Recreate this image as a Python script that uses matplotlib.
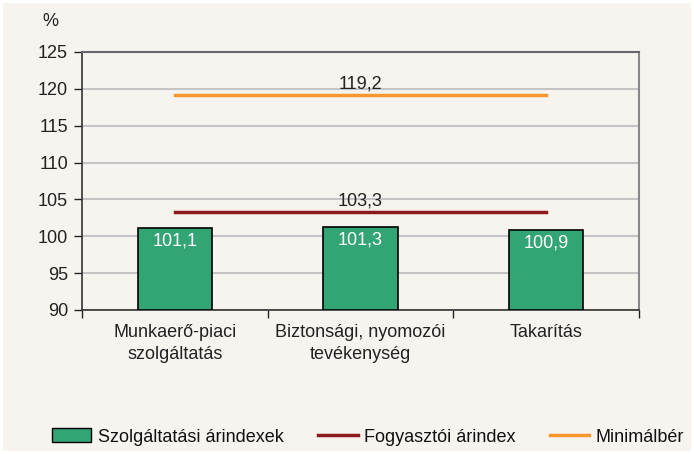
import matplotlib.pyplot as plt
from matplotlib.patches import Patch
from matplotlib.lines import Line2D

categories = ["Munkaerő-piaci\nszolgáltatás", "Biztonsági, nyomozói\ntevékenység", "Takarítás"]
arindex = [101.1, 101.3, 100.9]
fogyasztoi = 103.3
minimalber = 119.2

plt.rcParams['font.family'] = ['Liberation Sans', 'DejaVu Sans']

bg = '#F7F4F0'
green = '#33A474'
darkred = '#8B1A1A'
orange = '#F7962F'

fig = plt.figure(figsize=(6.94, 4.54), dpi=100, facecolor=bg)
fig.patch.set_edgecolor('white')
fig.patch.set_linewidth(3)
ax = fig.add_axes([82/694, 1 - 310/454, (639-82)/694, (310-52)/454])
ax.set_facecolor(bg)

x = list(range(len(categories)))
ax.bar(x, [v - 90 for v in arindex], bottom=90, width=0.40, color=green,
       edgecolor='black', linewidth=1.2, zorder=3)
for xi, v in zip(x, arindex):
    ax.text(xi, v - 0.6, f"{v:.1f}".replace('.', ','), ha='center', va='top',
            color='white', fontsize=13, zorder=4)

ax.plot([0, 2], [fogyasztoi, fogyasztoi], color=darkred, lw=2.5, zorder=3)
ax.plot([0, 2], [minimalber, minimalber], color=orange, lw=2.5, zorder=3)
ax.text(1, fogyasztoi + 0.3, f"{fogyasztoi:.1f}".replace('.', ','), ha='center', va='bottom',
        fontsize=13, color='#222222')
ax.text(1, minimalber + 0.3, f"{minimalber:.1f}".replace('.', ','), ha='center', va='bottom',
        fontsize=13, color='#222222')

ax.set_xlim(-0.5, 2.5)
ax.set_ylim(90, 125)
ax.set_yticks(range(90, 126, 5))
ax.tick_params(axis='y', labelsize=13, length=6, width=1, colors='#222222', pad=4)
ax.yaxis.grid(True, color='#C4C4C4', lw=1.5, zorder=0)

ax.set_xticks([-0.5, 0.5, 1.5, 2.5], minor=False)
ax.set_xticklabels([])
ax.tick_params(axis='x', length=6, width=1, color='#222222')
ax.set_xticks(x, minor=True)
ax.set_xticklabels(categories, minor=True, fontsize=13, color='#222222', linespacing=1.4)
ax.tick_params(axis='x', which='minor', length=0, pad=10)

for s in ['left', 'bottom']:
    ax.spines[s].set_color('#333333')
    ax.spines[s].set_linewidth(1.2)
ax.spines['top'].set_color('#666666')
ax.spines['top'].set_linewidth(1.5)
ax.spines['right'].set_color('#888888')
ax.spines['right'].set_linewidth(1.5)

fig.text(50/694, 1 - 22/454, '%', fontsize=13, ha='center', va='center', color='#222222')

handles = [Patch(facecolor=green, edgecolor='black', label='Szolgáltatási árindexek'),
           Line2D([0], [0], color=darkred, lw=2.5, label='Fogyasztói árindex'),
           Line2D([0], [0], color=orange, lw=2.5, label='Minimálbér')]
fig.legend(handles=handles, loc='center', bbox_to_anchor=(0.53, 1 - 437/454), ncol=3,
           frameon=False, fontsize=13, handlelength=2.2, handleheight=0.8,
           columnspacing=1.9, handletextpad=0.35, labelcolor='#111111')

fig.savefig('out.png', dpi=100, facecolor=bg, edgecolor='white')
